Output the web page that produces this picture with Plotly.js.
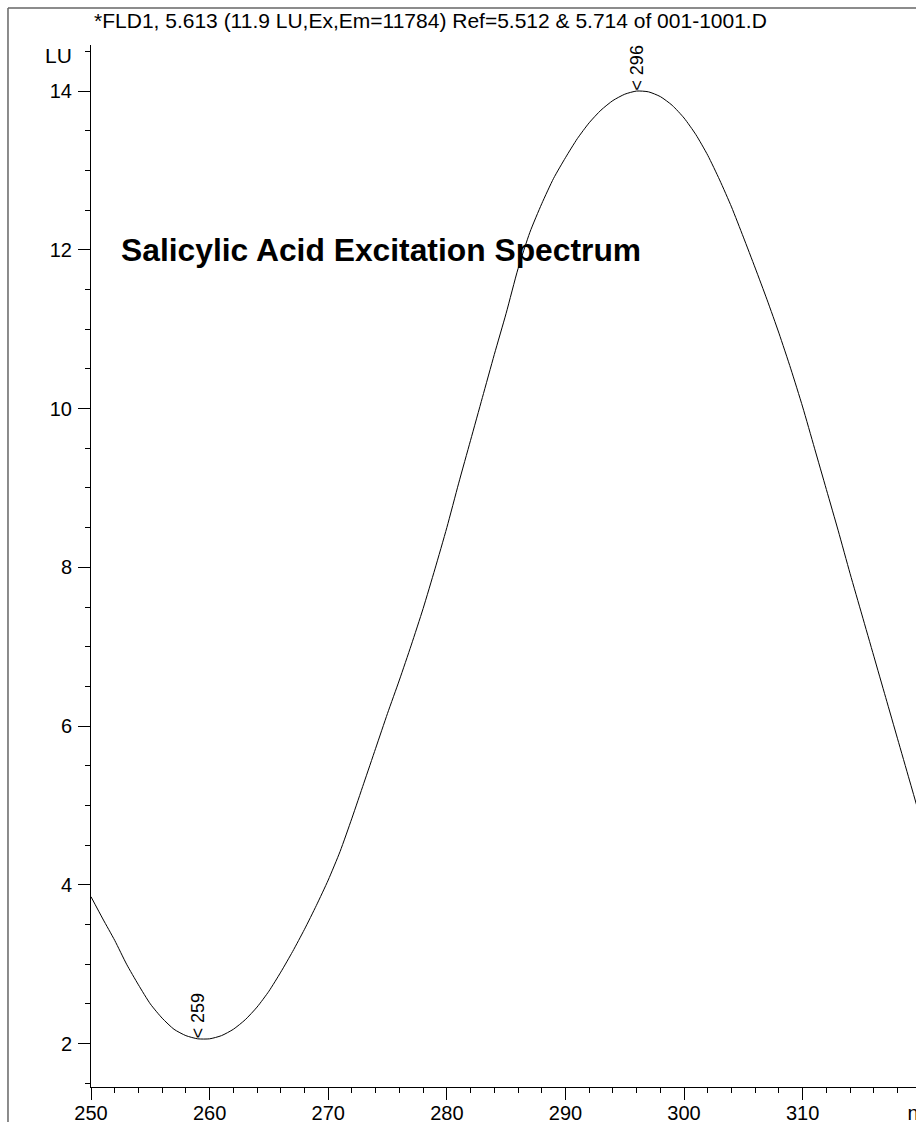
<!DOCTYPE html>
<html>
<head>
<meta charset="utf-8">
<script src="https://cdn.plot.ly/plotly-3.0.1.min.js"></script>
<style>
html, body { margin: 0; padding: 0; overflow: hidden; background: #fff; }
#chart { width: 960px; height: 1122px; }
</style>
</head>
<body>
<div id="chart"></div>
<script>
// Wavelength (nm)
const wavelengths = [250,251,252,253,254,255,256,257,258,259,
  260,261,262,263,264,265,266,267,268,269,
  270,271,272,273,274,275,276,277,278,279,
  280,281,282,283,284,285,286,287,288,289,
  290,291,292,293,294,295,296,297,298,299,
  300,301,302,303,304,305,306,307,308,309,
  310,311,312,313,314,315,316,317,318,319,320];
// Fluorescence intensity (LU)
const intensity = [3.85,3.57,3.30,3.00,2.74,2.50,2.32,2.18,2.10,2.06,
  2.06,2.10,2.18,2.30,2.46,2.66,2.90,3.16,3.44,3.74,
  4.06,4.42,4.84,5.28,5.72,6.16,6.58,7.02,7.48,7.98,
  8.50,9.06,9.60,10.14,10.68,11.20,11.76,12.22,12.58,12.90,
  13.16,13.40,13.60,13.76,13.88,13.96,14.00,13.99,13.93,13.82,
  13.66,13.45,13.19,12.88,12.54,12.16,11.77,11.37,10.95,10.50,
  10.02,9.50,8.98,8.46,7.92,7.40,6.88,6.36,5.84,5.32,4.80];
// Peak labels
const peakLabelsX = [259, 296];
const peakLabelsY = [2.06, 14.00];
const peakLabelsText = ['< 259', '< 296'];
// Axis ticks
const xTickVals = [250,260,270,280,290,300,310,320];
const xTickText = ['250','260','270','280','290','300','310','nm'];
const yTickVals = [2,4,6,8,10,12,14];
const yTickText = ['2','4','6','8','10','12','14'];

const titleText = '*FLD1, 5.613 (11.9 LU,Ex,Em=11784) Ref=5.512 &amp; 5.714 of 001-1001.D';
const overlayText = '<b>Salicylic Acid Excitation Spectrum</b>';

const FONT = 'Arial, "Liberation Sans", Helvetica, sans-serif';

const trace = {
  x: wavelengths,
  y: intensity,
  type: 'scatter',
  mode: 'lines',
  line: { color: '#000000', width: 1, shape: 'spline', smoothing: 0.6 },
  hoverinfo: 'x+y'
};

const annotations = peakLabelsX.map((x, i) => ({
  x: x, y: peakLabelsY[i], xref: 'x', yref: 'y',
  text: peakLabelsText[i], textangle: -90, showarrow: false,
  xanchor: 'center', yanchor: 'bottom', yshift: -2,
  font: { family: FONT, size: 18, color: '#000' }
}));
annotations.push({
  x: 250, y: 14.5, xref: 'x', yref: 'y', text: 'LU', showarrow: false,
  xanchor: 'right', yanchor: 'middle', xshift: -17, yshift: -4,
  font: { family: FONT, size: 21, color: '#000' }
});
annotations.push({
  x: 0.0351, y: 12, xref: 'paper', yref: 'y', text: overlayText, showarrow: false,
  xanchor: 'left', yanchor: 'middle', xshift: -2,
  font: { family: FONT, size: 31.8, color: '#000' }
});

const layout = {
  width: 960, height: 1122,
  margin: { l: 91, r: 15, t: 45, b: 35, pad: 0 },
  paper_bgcolor: '#ffffff', plot_bgcolor: '#ffffff',
  showlegend: false,
  title: {
    text: titleText,
    font: { family: FONT, size: 21, color: '#000' },
    xref: 'paper', x: 0.3975, xanchor: 'center',
    yref: 'container', y: 0.982, yanchor: 'middle'
  },
  xaxis: {
    range: [250, 322.0],
    showgrid: false, zeroline: false,
    showline: true, linecolor: '#000', linewidth: 1,
    ticks: 'outside', ticklen: 12, tickwidth: 1, tickcolor: '#000',
    tickvals: xTickVals, ticktext: xTickText,
    ticklabelstandoff: -4,
    tickfont: { family: FONT, size: 20, color: '#000' },
    minor: { dtick: 2, tick0: 250, ticks: 'outside', ticklen: 5, tickwidth: 1, tickcolor: '#000', showgrid: false }
  },
  yaxis: {
    range: [1.453, 14.58],
    showgrid: false, zeroline: false,
    showline: true, linecolor: '#000', linewidth: 1,
    ticks: 'outside', ticklen: 12, tickwidth: 1, tickcolor: '#000',
    tickvals: yTickVals, ticktext: yTickText,
    ticklabelstandoff: 2,
    tickfont: { family: FONT, size: 20, color: '#000' },
    minor: { dtick: 0.5, tick0: 0, ticks: 'outside', ticklen: 5, tickwidth: 1, tickcolor: '#000', showgrid: false }
  },
  annotations: annotations,
  shapes: [
    { type: 'line', xref: 'paper', yref: 'paper', x0: -0.0972, x1: 1.2, y0: 1.0355, y1: 1.0355,
      line: { color: '#666', width: 1.5 } },
    { type: 'line', xref: 'paper', yref: 'paper', x0: -0.0972, x1: -0.0972, y0: 1.0355, y1: -0.05,
      line: { color: '#666', width: 1.5 } }
  ]
};

Plotly.newPlot('chart', [trace], layout, { staticPlot: true, displayModeBar: false });
</script>
</body>
</html>
